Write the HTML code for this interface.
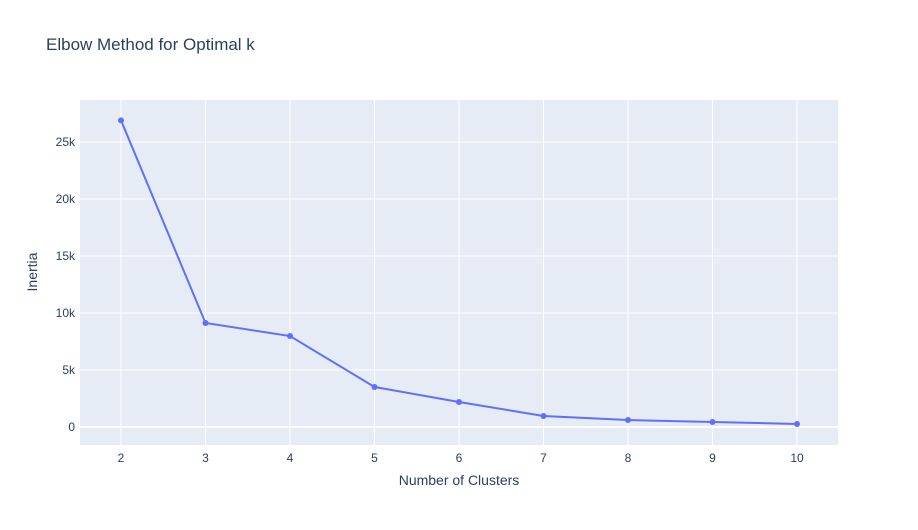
<!DOCTYPE html>
<html><head><meta charset="utf-8"><style>
body{margin:0;background:#fff;font-family:"Liberation Sans",sans-serif;}
svg text{font-family:"Liberation Sans",sans-serif;}
</style></head><body>
<svg id="chart" width="918" height="525">
<rect x="0" y="0" width="918" height="525" fill="#fff"/>
<text x="46" y="50" font-size="17" fill="#2a3f5f">Elbow Method for Optimal k</text>
<rect x="80" y="100" width="758" height="345" fill="#e5ecf6"/>
<g id="grid"></g>
<g id="series"></g>
<text x="459" y="485" font-size="14" fill="#2a3f5f" text-anchor="middle">Number of Clusters</text>
<text transform="translate(37,272) rotate(-90)" font-size="14" fill="#2a3f5f" text-anchor="middle">Inertia</text>
</svg>
<script>
const categories=[2,3,4,5,6,7,8,9,10];
const inertia=[26900,9120,7980,3510,2190,970,610,440,265];
const yTicks=[0,5000,10000,15000,20000,25000];
const yTickLabels=["0","5k","10k","15k","20k","25k"];
const NS="http://www.w3.org/2000/svg";
function xs(v){return 121+(v-2)*84.5;}
function ys(v){return 427-v*57/5000;}
const grid=document.getElementById('grid'),ser=document.getElementById('series');
function mk(t,a,p){const e=document.createElementNS(NS,t);for(const k in a)e.setAttribute(k,a[k]);p.appendChild(e);return e;}
categories.forEach(c=>{
 const l=mk('line',{x1:xs(c),x2:xs(c),y1:100,y2:445,stroke:'#fff','stroke-width':1},grid);
 
 
 const t=mk('text',{x:xs(c),y:462,'font-size':12,fill:'#2a3f5f','text-anchor':'middle'},grid);
 t.textContent=c;
 
 
});
yTicks.forEach((v,i)=>{
 const l=mk('line',{x1:80,x2:838,y1:ys(v),y2:ys(v),stroke:'#fff','stroke-width':v===0?2:1},grid);
 
 
 const t=mk('text',{x:75,y:ys(v)+4,'font-size':12,fill:'#2a3f5f','text-anchor':'end'},grid);
 t.textContent=yTickLabels[i];
 
 
});
const pts=categories.map((c,i)=>xs(c)+','+ys(inertia[i])).join(' ');
const pl=mk('polyline',{points:pts,fill:'none',stroke:'#636efa','stroke-width':2},ser);


categories.forEach((c,i)=>{
 const m=mk('circle',{cx:xs(c),cy:ys(inertia[i]),r:3,fill:'#636efa'},ser);
 
 
});
</script>
</body></html>
